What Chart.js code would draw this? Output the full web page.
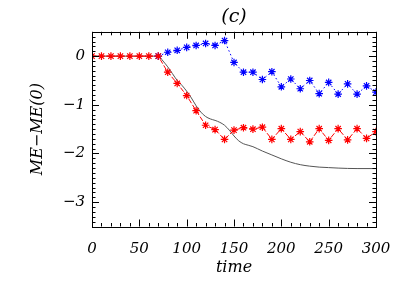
<!DOCTYPE html>
<html>
<head>
<meta charset="utf-8">
<script src="https://cdn.jsdelivr.net/npm/chart.js@4/dist/chart.umd.min.js"></script>
<style>
  html, body { margin: 0; padding: 0; background: #fff; }
  #wrap { width: 407px; height: 291px; }
</style>
</head>
<body>
<div id="wrap"><canvas id="c"></canvas></div>
<script>
// sampled times for the marked series
const times = [0, 10, 20, 30, 40, 50, 60, 70, 80, 90, 100, 110, 120, 130, 140, 150,
  160, 170, 180, 190, 200, 210, 220, 230, 240, 250, 260, 270, 280, 290, 300];
const redValues = [0, 0, 0, 0, 0, 0, 0, 0, -0.33, -0.56, -0.81, -1.12, -1.42, -1.51, -1.71, -1.52,
  -1.47, -1.50, -1.46, -1.71, -1.49, -1.71, -1.55, -1.76, -1.49, -1.73, -1.49, -1.72, -1.49, -1.69, -1.55];
const blueValues = [null, null, null, null, null, null, null, 0, 0.08, 0.12, 0.18, 0.22, 0.26, 0.22, 0.32, -0.13,
  -0.33, -0.33, -0.48, -0.32, -0.63, -0.47, -0.67, -0.50, -0.77, -0.54, -0.78, -0.57, -0.78, -0.61, -0.74];
// continuous (black) curve
const lineTimes = [0, 70, 75, 80, 85, 90, 95, 100, 105, 110, 115, 120, 125, 130, 135, 140, 145, 150,
  155, 160, 165, 170, 180, 190, 200, 210, 220, 230, 240, 250, 260, 280, 300];
const lineValues = [0, 0, -0.1, -0.22, -0.36, -0.5, -0.6, -0.72, -0.86, -1.02, -1.15, -1.24, -1.29, -1.32, -1.36, -1.42, -1.52, -1.64,
  -1.74, -1.8, -1.83, -1.86, -1.95, -2.03, -2.11, -2.18, -2.23, -2.26, -2.28, -2.29, -2.3, -2.31, -2.31];
const xTicks = [0, 50, 100, 150, 200, 250, 300];
const yTicks = [0, -1, -2, -3];

const FONT = "'DejaVu Serif', serif";

const pts = (xs, ys) => xs.map((x, i) => ({ x: x, y: ys[i] }));

// IDL-like frame with inward ticks on all four sides
const frameTicks = {
  id: 'frameTicks',
  afterDraw(chart) {
    const ctx = chart.ctx, a = chart.chartArea;
    const xs = chart.scales.x, ys = chart.scales.y;
    ctx.save();
    ctx.strokeStyle = '#000';
    ctx.lineWidth = 1;
    ctx.strokeRect(Math.round(a.left) + 0.5, Math.round(a.top) + 0.5,
      Math.round(a.right - a.left), Math.round(a.bottom - a.top));
    ctx.beginPath();
    for (let v = 0; v <= 300; v += 10) {
      const px = Math.round(xs.getPixelForValue(v)) + 0.5;
      const len = xTicks.includes(v) ? 7 : 3.5;
      ctx.moveTo(px, a.bottom); ctx.lineTo(px, a.bottom - len);
      ctx.moveTo(px, a.top); ctx.lineTo(px, a.top + len);
    }
    for (let k = -35; k <= 5; k++) {
      const v = k / 10;
      const py = Math.round(ys.getPixelForValue(v)) + 0.5;
      const len = (k % 10 === 0) ? 7 : 3.5;
      ctx.moveTo(a.left, py); ctx.lineTo(a.left + len, py);
      ctx.moveTo(a.right, py); ctx.lineTo(a.right - len, py);
    }
    ctx.stroke();
    ctx.restore();
  }
};

new Chart(document.getElementById('c'), {
  type: 'line',
  data: {
    datasets: [{
      label: 'red',
      data: pts(times, redValues),
      borderColor: '#ff0000',
      backgroundColor: '#ff0000',
      borderWidth: 1,
      borderDash: [5, 2],
      pointStyle: 'star',
      pointRadius: 3.8,
      pointBorderWidth: 1.2,
      tension: 0
    }, {
      label: 'blue',
      data: pts(times, blueValues),
      borderColor: '#0000ff',
      backgroundColor: '#0000ff',
      borderWidth: 1,
      borderDash: [1.5, 2.5],
      pointStyle: 'star',
      pointRadius: 3.8,
      pointBorderWidth: 1.2,
      tension: 0
    }, {
      label: 'black',
      data: pts(lineTimes, lineValues),
      borderColor: '#555555',
      borderWidth: 1,
      pointRadius: 0,
      cubicInterpolationMode: 'monotone'
    }]
  },
  options: {
    responsive: true,
    maintainAspectRatio: false,
    animation: false,
    layout: { padding: { left: 0, right: 31, top: 0, bottom: 0 } },
    plugins: {
      legend: { display: false },
      tooltip: { enabled: false },
      title: {
        display: true,
        text: '(c)',
        fullSize: false,
        color: '#000',
        font: { family: FONT, size: 19, style: 'italic', weight: 'normal' },
        padding: { top: 6, bottom: 3 }
      }
    },
    scales: {
      x: {
        type: 'linear',
        min: 0, max: 300,
        afterFit(s) { s.height = 64.5; },
        afterBuildTicks(s) { s.ticks = xTicks.map(v => ({ value: v })); },
        grid: { display: false, drawTicks: false },
        border: { display: false },
        ticks: {
          color: '#000',
          padding: 14,
          maxRotation: 0,
          font: { family: FONT, size: 15, style: 'italic' }
        },
        title: {
          display: true,
          text: 'time',
          color: '#000',
          font: { family: FONT, size: 16, style: 'italic' },
          padding: { top: 0, bottom: 14 }
        }
      },
      y: {
        type: 'linear',
        min: -3.5, max: 0.5,
        afterFit(s) { s.width = 92; },
        afterBuildTicks(s) { s.ticks = yTicks.map(v => ({ value: v })); },
        grid: { display: false, drawTicks: false },
        border: { display: false },
        ticks: {
          color: '#000',
          padding: 7,
          font: { family: FONT, size: 15, style: 'italic' },
          callback: v => (v < 0 ? '\u2212' + Math.abs(v) : String(v))
        },
        title: {
          display: true,
          text: 'ME\u2212ME(0)',
          color: '#000',
          font: { family: FONT, size: 16, style: 'italic' },
          padding: { top: 28, bottom: 0 }
        }
      }
    }
  },
  plugins: [frameTicks]
});
</script>
</body>
</html>
